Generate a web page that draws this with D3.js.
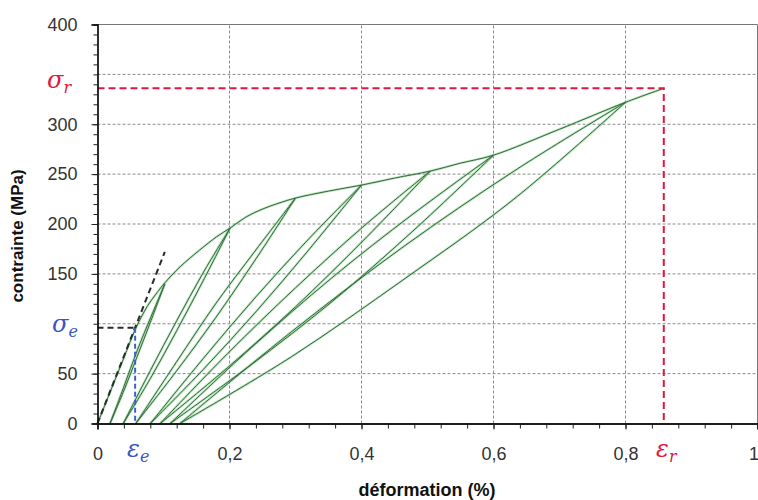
<!DOCTYPE html>
<html>
<head>
<meta charset="utf-8">
<script src="https://cdn.jsdelivr.net/npm/d3@7"></script>
<style>
  html, body { margin: 0; padding: 0; background: #fff; }
  svg { display: block; }
</style>
</head>
<body>
<svg id="chart" width="758" height="500"></svg>
<script>
// ---- data (strain in %, stress in MPa) ----
const strainTicks = [0, 0.2, 0.4, 0.6, 0.8, 1];
const stressTicks = [0, 50, 150, 200, 250, 300, 400];
const stressGrid = [50, 100, 150, 200, 250, 300, 350];
const strainGrid = [0.2, 0.4, 0.6, 0.8];

// monotonic loading envelope
const envelope = [[0,0],[0.02,33],[0.04,66],[0.057,94],[0.075,117],[0.09,131],[0.102,141],
  [0.125,157],[0.155,174],[0.18,187],[0.201,196],[0.225,207],[0.25,215],[0.275,221],[0.30,226],
  [0.35,233],[0.40,239],[0.45,246],[0.504,253],[0.55,261],[0.60,269],[0.70,295],[0.80,322],[0.858,336]];

// unloading curves (peak -> residual strain)
const unloadCurves = [
  [[0.102,140],[0.081,107],[0.06,73],[0.04,37],[0.019,0]],
  [[0.201,196],[0.16,151],[0.12,103],[0.08,53],[0.039,0]],
  [[0.30,226],[0.24,174],[0.179,120],[0.119,61],[0.058,0]],
  [[0.40,239],[0.32,185],[0.24,127],[0.16,65],[0.08,0]],
  [[0.504,253],[0.402,197],[0.30,136],[0.197,70],[0.095,0]],
  [[0.60,269],[0.478,210],[0.355,146],[0.233,76],[0.11,0]],
  [[0.80,322],[0.631,253],[0.463,177],[0.294,92],[0.125,0]]
];
// reloading curves (residual strain -> peak)
const reloadCurves = [
  [[0.019,0],[0.04,33],[0.06,67],[0.081,103],[0.102,140]],
  [[0.039,0],[0.08,45],[0.12,93],[0.16,143],[0.201,196]],
  [[0.058,0],[0.119,52],[0.179,106],[0.24,165],[0.30,226]],
  [[0.08,0],[0.16,54],[0.24,112],[0.32,174],[0.40,239]],
  [[0.095,0],[0.197,56],[0.30,117],[0.402,183],[0.504,253]],
  [[0.11,0],[0.233,59],[0.355,122],[0.478,193],[0.60,269]],
  [[0.125,0],[0.294,67],[0.463,144],[0.631,225],[0.80,322]]
];

// characteristic points
const elasticLine = [[0,0],[0.102,172]];
const sigmaE = 96, epsE = 0.057;
const sigmaR = 336, epsR = 0.858;

// ---- layout ----
const svg = d3.select("#chart");
const x = d3.scaleLinear().domain([0, 1]).range([97.5, 757.5]);
const y = d3.scaleLinear().domain([0, 400]).range([423.5, 24.5]);

// grid
const grid = svg.append("g");
grid.selectAll(".hg").data(stressGrid).join("line")
  .attr("x1", x(0)).attr("x2", x(1))
  .attr("y1", d => y(d)).attr("y2", d => y(d))
  .attr("stroke", "#8a8a8a").attr("stroke-width", 1).attr("stroke-dasharray", "3,2");
grid.selectAll(".vg").data(strainGrid).join("line")
  .attr("y1", y(0)).attr("y2", y(400))
  .attr("x1", d => x(d)).attr("x2", d => x(d))
  .attr("stroke", "#8a8a8a").attr("stroke-width", 1).attr("stroke-dasharray", "3,2");
// top and right frame
svg.append("line").attr("x1", x(0)).attr("x2", x(1)).attr("y1", y(400)).attr("y2", y(400))
  .attr("stroke", "#777").attr("stroke-width", 1);
svg.append("line").attr("x1", x(1)).attr("x2", x(1)).attr("y1", y(0)).attr("y2", y(400))
  .attr("stroke", "#777").attr("stroke-width", 1);

// curves
const line = d3.line().x(d => x(d[0])).y(d => y(d[1])).curve(d3.curveCatmullRom.alpha(0.5));
const allCurves = [envelope, ...unloadCurves, ...reloadCurves];
const cg = svg.append("g").attr("fill", "none");
cg.selectAll(".glow").data(allCurves).join("path")
  .attr("d", line).attr("stroke", "#7ccf82").attr("stroke-width", 2.4).attr("stroke-opacity", 0.55);
cg.selectAll(".core").data(allCurves).join("path")
  .attr("d", line).attr("stroke", "#36663f").attr("stroke-width", 1);

// annotation dashed lines
const straight = d3.line().x(d => x(d[0])).y(d => y(d[1]));
svg.append("path").attr("d", straight(elasticLine)).attr("fill", "none")
  .attr("stroke", "#2a2a2a").attr("stroke-width", 2).attr("stroke-dasharray", "6,4");
svg.append("path").attr("d", straight([[0, sigmaE],[epsE, sigmaE]])).attr("fill", "none")
  .attr("stroke", "#2a2a2a").attr("stroke-width", 2).attr("stroke-dasharray", "6,4");
svg.append("path").attr("d", straight([[epsE, sigmaE],[epsE, 0]])).attr("fill", "none")
  .attr("stroke", "#3b63c9").attr("stroke-width", 2).attr("stroke-dasharray", "5,3");
svg.append("path").attr("d", straight([[0, sigmaR],[epsR, sigmaR],[epsR, 0]])).attr("fill", "none")
  .attr("stroke", "#e3173e").attr("stroke-width", 2).attr("stroke-dasharray", "7,4");

// axes
const fmt = d => String(d).replace(".", ",");
const xAxisMinor = d3.axisBottom(x).tickValues(d3.range(0, 26).map(i => i * 0.04)).tickSize(5).tickFormat("");
const yAxisMinor = d3.axisLeft(y).tickValues(d3.range(0, 41).map(i => i * 10)).tickSize(4).tickFormat("");
const xAxis = d3.axisBottom(x).tickValues(strainTicks).tickSize(6).tickPadding(18).tickFormat(fmt);
const yAxis = d3.axisLeft(y).tickValues(stressTicks).tickSize(6).tickPadding(14).tickFormat(d => d);

function styleAxis(g) {
  g.select(".domain").attr("stroke", "#111").attr("stroke-width", 1.3);
  g.selectAll(".tick line").attr("stroke", "#222");
  g.selectAll(".tick text").attr("fill", "#333")
    .style("font-family", "'Liberation Sans', Arial, sans-serif").style("font-size", "18px");
}
svg.append("g").attr("transform", `translate(0,${y(0)})`).call(xAxisMinor).call(styleAxis);
svg.append("g").attr("transform", `translate(${x(0)},0)`).call(yAxisMinor).call(styleAxis);
const gx = svg.append("g").attr("transform", `translate(0,${y(0)})`).call(xAxis).call(styleAxis);
svg.append("g").attr("transform", `translate(${x(0)},0)`).call(yAxis).call(styleAxis);
// keep the last label ("1") inside the picture
gx.selectAll(".tick text").filter(d => d === 1).attr("text-anchor", "end").attr("dx", 1);

// axis titles
svg.append("text").attr("x", 427).attr("y", 496).attr("text-anchor", "middle")
  .style("font-family", "'Liberation Sans', Arial, sans-serif").style("font-size", "18px")
  .style("font-weight", "bold").attr("fill", "#111").text("déformation (%)");
svg.append("text").attr("transform", "translate(23,236) rotate(-90)").attr("text-anchor", "middle")
  .style("font-family", "'Liberation Sans', Arial, sans-serif").style("font-size", "17px")
  .style("font-weight", "bold").attr("fill", "#111").text("contrainte (MPa)");

// math labels
function mathLabel(xp, yp, main, sub, color, anchor) {
  const t = svg.append("text").attr("x", xp).attr("y", yp).attr("text-anchor", anchor || "start")
    .attr("fill", color).style("font-family", "'DejaVu Serif', 'Liberation Serif', serif")
    .style("font-style", "italic");
  t.append("tspan").style("font-size", "24px").text(main);
  t.append("tspan").attr("dy", 5).style("font-size", "16px").text(sub);
}
mathLabel(47, 88, "σ", "r", "#e3173e");
mathLabel(52, 332, "σ", "e", "#3b53c4");
mathLabel(127, 457, "ε", "e", "#3b53c4");
mathLabel(656, 457, "ε", "r", "#e3173e");
</script>
</body>
</html>
